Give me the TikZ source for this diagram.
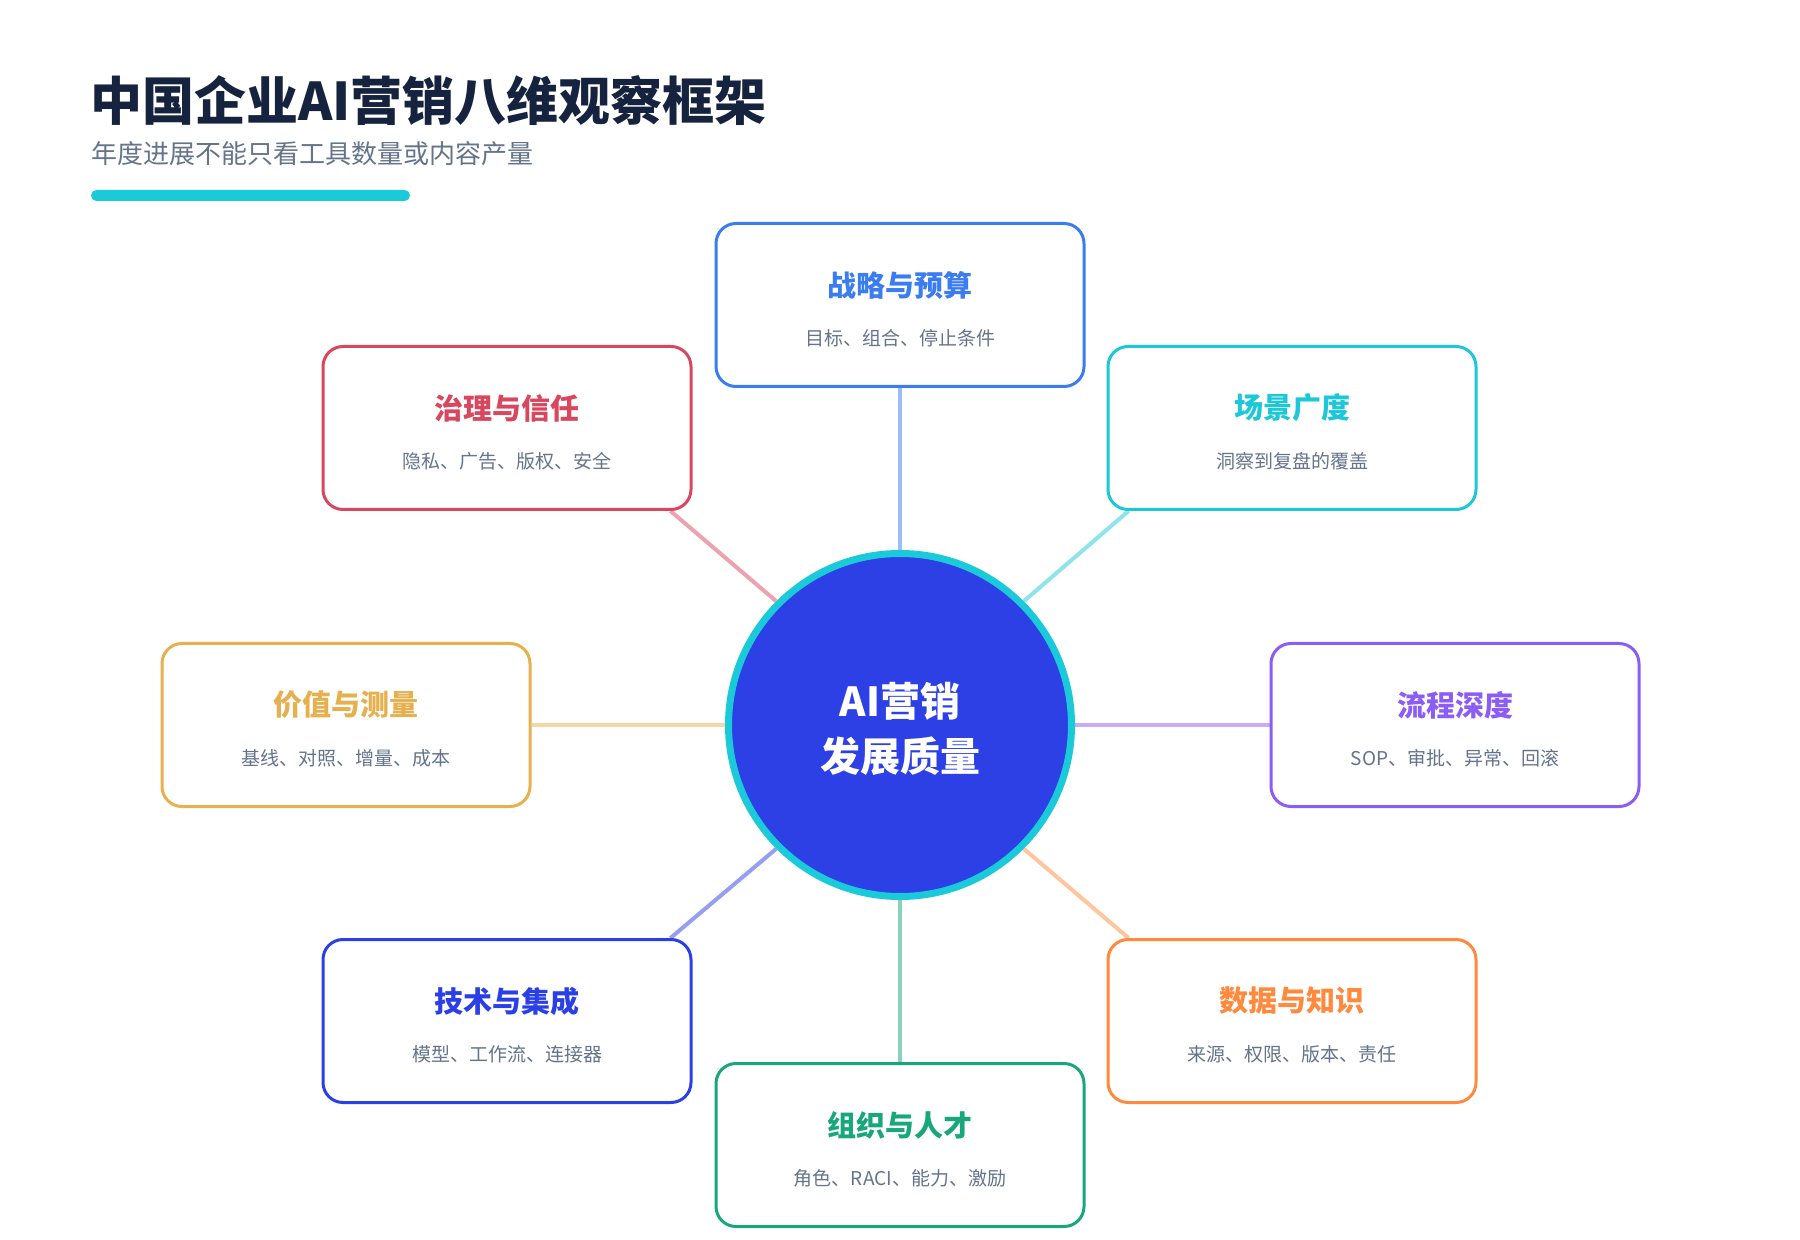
\documentclass[tikz,border=0pt]{standalone}
\usepackage{fontspec}
\setmainfont{Noto Sans CJK SC}
\usepackage{tikz}
\usetikzlibrary{backgrounds}
\usepackage{xcolor}
\definecolor{ink}{HTML}{15233F}
\definecolor{slate}{HTML}{64748B}
\definecolor{accent}{HTML}{1BCAD9}
\definecolor{coreblue}{HTML}{2C40E5}
\definecolor{cStrat}{HTML}{3B7CF0}
\definecolor{cGov}{HTML}{D9475F}
\definecolor{cScene}{HTML}{1CC8D8}
\definecolor{cValue}{HTML}{E6B04F}
\definecolor{cFlow}{HTML}{8B5CF6}
\definecolor{cTech}{HTML}{2B3FE6}
\definecolor{cData}{HTML}{FF8A3D}
\definecolor{cOrg}{HTML}{18A67B}
\tikzset{
  % Common styles for the framework
  dimbox/.style={draw=#1, line width=1.5pt, rounded corners=10pt, fill=white,
                 minimum width=184pt, minimum height=81.5pt},
  dimhead/.style={text=#1, inner sep=0pt, font=\bfseries\fontsize{14.5pt}{17pt}\selectfont},
  dimsub/.style={text=slate, inner sep=0pt, font=\fontsize{9.5pt}{12pt}\selectfont},
  dimlink/.style={draw=#1!50, line width=2pt}
}

\begin{document}
\begin{tikzpicture}[
    x=0.5pt, y=-0.5pt,
    core/.style={circle, draw=accent, line width=3.5pt, fill=coreblue,
                 minimum size=171.5pt},
    coretext/.style={text=white, align=center, inner sep=0pt,
                 font=\bfseries\fontsize{20pt}{27.5pt}\selectfont},
    bar/.style={fill=accent, rounded corners=2.7pt}
]
\useasboundingbox (0,0) rectangle (1800,1240);

% Heading
\node[anchor=west, inner sep=0pt, text=ink, font=\bfseries\fontsize{26pt}{30pt}\selectfont] (title) at (90,101) {中国企业AI营销八维观察框架};
\node[anchor=west, inner sep=0pt, text=slate, font=\fontsize{13pt}{16pt}\selectfont] (subtitle) at (91,154) {年度进展不能只看工具数量或内容产量};
\fill[bar] (91,190) rectangle (410,201);

% Core
\node[core] (core) at (900,725) {};
\node[coretext] (coreT) at (900,729) {AI营销\\发展质量};

% Eight dimensions
\node[dimbox=cStrat] (strat) at (900,305) {};
\node[dimhead=cStrat] (stratH) at (900,285) {战略与预算};
\node[dimsub] (stratS) at (900,338) {目标、组合、停止条件};

\node[dimbox=cGov] (gov) at (507,428) {};
\node[dimhead=cGov] (govH) at (507,408) {治理与信任};
\node[dimsub] (govS) at (507,461) {隐私、广告、版权、安全};

\node[dimbox=cScene] (scene) at (1292,428) {};
\node[dimhead=cScene] (sceneH) at (1292,408) {场景广度};
\node[dimsub] (sceneS) at (1292,461) {洞察到复盘的覆盖};

\node[dimbox=cValue] (value) at (346,725) {};
\node[dimhead=cValue] (valueH) at (346,705) {价值与测量};
\node[dimsub] (valueS) at (346,758) {基线、对照、增量、成本};

\node[dimbox=cFlow] (flow) at (1455,725) {};
\node[dimhead=cFlow] (flowH) at (1455,705) {流程深度};
\node[dimsub] (flowS) at (1455,758) {SOP、审批、异常、回滚};

\node[dimbox=cTech] (tech) at (507,1021) {};
\node[dimhead=cTech] (techH) at (507,1001) {技术与集成};
\node[dimsub] (techS) at (507,1054) {模型、工作流、连接器};

\node[dimbox=cData] (data) at (1292,1021) {};
\node[dimhead=cData] (dataH) at (1292,1001) {数据与知识};
\node[dimsub] (dataS) at (1292,1054) {来源、权限、版本、责任};

\node[dimbox=cOrg] (org) at (900,1145) {};
\node[dimhead=cOrg] (orgH) at (900,1125) {组织与人才};
\node[dimsub] (orgS) at (900,1178) {角色、RACI、能力、激励};

% Spokes
\begin{pgfonlayer}{background}
\fill[white] (0,0) rectangle (1800,1240);
\draw[dimlink=cStrat] (strat.south) -- (core.north);
\draw[dimlink=cOrg] (org.north) -- (core.south);
\draw[dimlink=cValue] (value.east) -- (core.west);
\draw[dimlink=cFlow] (flow.west) -- (core.east);
\draw[dimlink=cGov] ([xshift=-11pt]gov.south east) -- (core.135);
\draw[dimlink=cScene] ([xshift=11pt]scene.south west) -- (core.45);
\draw[dimlink=cTech] ([xshift=-11pt]tech.north east) -- (core.225);
\draw[dimlink=cData] ([xshift=11pt]data.north west) -- (core.315);
\end{pgfonlayer}

\end{tikzpicture}
\end{document}
